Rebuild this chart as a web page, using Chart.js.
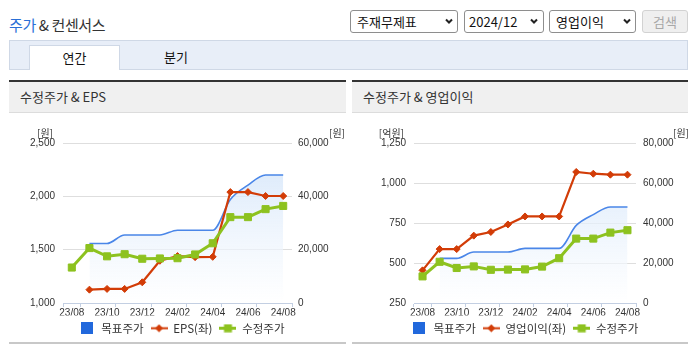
<!DOCTYPE html>
<html><head><meta charset="utf-8">
<script src="https://cdn.jsdelivr.net/npm/chart.js@4/dist/chart.umd.min.js"></script>
<style>
html,body{margin:0;padding:0;background:#fff;width:695px;height:349px;overflow:hidden;font-family:'Noto Sans CJK KR','Noto Sans',sans-serif;}
.a{position:absolute;box-sizing:border-box;}
#title{left:9px;top:13px;font-size:15px;color:#333;line-height:24px;letter-spacing:-0.4px;white-space:nowrap}
#title .b{color:#2a6fd6}
.sel{top:10px;height:23px;border:1px solid #8e8e8e;border-radius:3px;background:#fff;font-size:13px;line-height:21px;color:#111;white-space:nowrap}
.sel svg{position:absolute;top:7px}
#btn{left:642px;top:10px;width:46px;height:23px;background:#efefef;border:1px solid #d2d2d2;border-radius:3px;color:#a8a8a8;font-size:13px;line-height:21px;text-align:center}
#tabbar{left:9px;top:40px;width:679px;height:30px;background:#e8eef8;border:1px solid #cfd8e6}
#tab1{left:29px;top:45px;width:91px;height:25px;background:#fff;border:1px solid #cfd8e6;border-bottom:none;font-size:13px;line-height:24px;text-align:center;color:#111}
#tab2{left:131px;top:45px;width:90px;height:25px;font-size:13px;line-height:24px;text-align:center;color:#111}
.ptop{top:80px;height:2px;background:#333}
.phead{top:82px;height:31px;background:#f0f0f0;border-bottom:1px solid #dcdcdc;font-size:13px;line-height:30px;color:#333;padding-left:11px;white-space:nowrap}
.pbot{top:342px;height:2px;background:#c8c8c8;z-index:5}
canvas{position:absolute;}
</style>
</head>
<body>
<div id="title" class="a"><span class="b">주가</span> &amp; 컨센서스</div>
<div class="a sel" style="left:350px;width:108px;padding-left:6px">주재무제표<svg style="left:94px" width="8" height="7" viewBox="0 0 8 7"><path d="M1 1.5 L4 4.5 L7 1.5" stroke="#222" stroke-width="2" fill="none"/></svg></div>
<div class="a sel" style="left:464px;width:80px;padding-left:4px">2024/12<svg style="left:65px" width="8" height="7" viewBox="0 0 8 7"><path d="M1 1.5 L4 4.5 L7 1.5" stroke="#222" stroke-width="2" fill="none"/></svg></div>
<div class="a sel" style="left:549px;width:87px;padding-left:6px">영업이익<svg style="left:73px" width="8" height="7" viewBox="0 0 8 7"><path d="M1 1.5 L4 4.5 L7 1.5" stroke="#222" stroke-width="2" fill="none"/></svg></div>
<div id="btn" class="a">검색</div>
<div id="tabbar" class="a"></div>
<div id="tab1" class="a">연간</div>
<div id="tab2" class="a">분기</div>

<div class="a ptop" style="left:9px;width:337px"></div>
<div class="a phead" style="left:9px;width:337px">수정주가 &amp; EPS</div>
<div class="a ptop" style="left:352px;width:336px"></div>
<div class="a phead" style="left:352px;width:336px">수정주가 &amp; 영업이익</div>

<canvas id="c1" width="337" height="231" style="left:9px;top:113px"></canvas>
<canvas id="c2" width="336" height="231" style="left:352px;top:113px"></canvas>

<div class="a pbot" style="left:9px;width:337px"></div>
<div class="a pbot" style="left:352px;width:336px"></div>

<script>
// ---- data ----
const months = ['23/08','23/09','23/10','23/11','23/12','24/01','24/02','24/03','24/04','24/05','24/06','24/07','24/08'];
const targetPrice = [null, 22300, 22300, 25500, 25500, 25500, 27300, 27300, 27300, 38800, 44200, 48000, 48000];
const adjPrice = [13300, 20600, 17500, 18300, 16600, 16700, 16800, 18200, 22400, 32200, 32200, 35200, 36400];
const eps = [null, 1125, 1132, 1132, 1194, 1396, 1440, 1430, 1433, 2040, 2040, 2003, 2003];
const opIncome = [454, 587, 587, 671, 694, 741, 791, 791, 791, 1069, 1058, 1052, 1052];
const seriesNames1 = ['목표주가', 'EPS(좌)', '수정주가'];
const seriesNames2 = ['목표주가', '영업이익(좌)', '수정주가'];
const leftTicks1 = [1000, 1500, 2000, 2500];
const rightTicks1 = [0, 20000, 40000, 60000];
const leftTicks2 = [250, 500, 750, 1000, 1250];
const rightTicks2 = [0, 20000, 40000, 60000, 80000];
const unit1 = ['[원]', '[원]'];
const unit2 = ['[억원]', '[원]'];

// ---- styles ----
const BLUE = '#4a86e8', BLUEBOX = '#2168dc', RED = '#d23c07', GREEN = '#8dc21f';
const AXIS = '#c3cfe2', GRID = '#dedede', TXT = '#333';
const tickFont = {family: "'Liberation Sans Narrow','Liberation Sans',Arial,sans-serif", size: 10};
const krFont = "'Noto Sans CJK KR','Noto Sans',sans-serif";

function legendIcon(kind) {
  const c = document.createElement('canvas');
  const g = c.getContext('2d');
  if (kind === 0) {
    c.width = 12; c.height = 12;
    g.fillStyle = BLUEBOX; g.fillRect(0, 0, 12, 12);
  } else if (kind === 1) {
    c.width = 17; c.height = 9;
    g.strokeStyle = RED; g.lineWidth = 2;
    g.beginPath(); g.moveTo(0, 4.5); g.lineTo(17, 4.5); g.stroke();
    g.fillStyle = RED; g.beginPath();
    g.moveTo(8.5, 0.5); g.lineTo(12.5, 4.5); g.lineTo(8.5, 8.5); g.lineTo(4.5, 4.5); g.closePath(); g.fill();
  } else {
    c.width = 17; c.height = 9;
    g.strokeStyle = GREEN; g.lineWidth = 3;
    g.beginPath(); g.moveTo(0, 4.5); g.lineTo(17, 4.5); g.stroke();
    g.fillStyle = GREEN; g.fillRect(4.5, 0.5, 8, 8);
  }
  return c;
}
const icons = [legendIcon(0), legendIcon(1), legendIcon(2)];

const unitPlugin = {
  id: 'units',
  afterDraw(chart, args, opts) {
    const {ctx, chartArea} = chart;
    ctx.save();
    ctx.font = '10px ' + krFont;
    ctx.fillStyle = TXT;
    ctx.textBaseline = 'middle';
    ctx.textAlign = 'right';
    ctx.fillText(opts.left, chartArea.left - 10, chartArea.top - 10);
    ctx.textAlign = 'left';
    ctx.fillText(opts.right, chartArea.right + 37, chartArea.top - 10);
    ctx.restore();
  }
};

function fmt(v) { return Number(v).toLocaleString('en-US'); }

function makeChart(id, leftData, names, lt, rt, units, padLeft, wL, wR, tpL, tpR) {
  const fillGrad = (ctx) => {
    const ca = ctx.chart.chartArea;
    if (!ca) return 'rgba(220,233,250,0.8)';
    const g = ctx.chart.ctx.createLinearGradient(0, ca.top, 0, ca.bottom);
    g.addColorStop(0, 'rgba(205,225,249,0.85)');
    g.addColorStop(1, 'rgba(255,255,255,0.6)');
    return g;
  };
  return new Chart(document.getElementById(id), {
    type: 'line',
    data: {
      labels: months,
      datasets: [
        {label: names[0], data: targetPrice, yAxisID: 'yR', borderColor: BLUE, borderWidth: 1.6,
         backgroundColor: fillGrad, fill: 'origin', pointRadius: 0, cubicInterpolationMode: 'monotone', order: 3},
        {label: names[1], data: leftData, yAxisID: 'yL', borderColor: RED, borderWidth: 2.2,
         backgroundColor: RED, pointBackgroundColor: RED, pointBorderColor: RED, pointStyle: 'rectRot',
         pointRadius: 3.5, pointBorderWidth: 1, fill: false, order: 2},
        {label: names[2], data: adjPrice, yAxisID: 'yR', borderColor: GREEN, borderWidth: 3,
         backgroundColor: GREEN, pointBackgroundColor: GREEN, pointBorderColor: GREEN, pointStyle: 'rect',
         pointRadius: 5, pointBorderWidth: 1, fill: false, order: 1}
      ]
    },
    options: {
      responsive: false, animation: false, devicePixelRatio: 1,
      layout: {padding: {top: 30, left: padLeft, right: 0, bottom: 0}},
      events: [],
      plugins: {
        tooltip: {enabled: false},
        units: {left: units[0], right: units[1]},
        legend: {
          position: 'bottom',
          labels: {
            usePointStyle: true, pointStyleWidth: 17, padding: 7, color: TXT,
            font: {family: krFont, size: 11.5},
            generateLabels(chart) {
              return chart.data.datasets.map((ds, i) => ({
                text: ds.label, pointStyle: icons[i], datasetIndex: i, hidden: false,
                fillStyle: 'transparent', strokeStyle: 'transparent', lineWidth: 0, fontColor: TXT
              }));
            }
          }
        }
      },
      scales: {
        x: {
          offset: true,
          border: {color: AXIS, width: 1},
          grid: {offset: true, drawOnChartArea: false, tickLength: 4, lineWidth: 1,
                 color: (c) => (c.index === undefined || c.index === 0 || c.index % 2 === 1) ? AXIS : 'rgba(0,0,0,0)'},
          ticks: {autoSkip: false, maxRotation: 0, padding: 0, color: TXT, font: tickFont,
                  callback: (v, i) => (i % 2 === 0 ? months[i] : '')},
          afterFit: (s) => { s.height = 12.5; }
        },
        yL: {
          position: 'left', min: lt[0], max: lt[lt.length - 1],
          afterBuildTicks: (s) => { s.ticks = lt.map(v => ({value: v})); },
          border: {display: false},
          grid: {color: (c) => c.index === 0 ? 'rgba(0,0,0,0)' : GRID, drawTicks: false},
          ticks: {padding: tpL, color: TXT, font: tickFont, callback: (v) => fmt(v)},
          afterFit: (s) => { s.width = wL; }
        },
        yR: {
          position: 'right', min: rt[0], max: rt[rt.length - 1],
          afterBuildTicks: (s) => { s.ticks = rt.map(v => ({value: v})); },
          border: {display: false},
          grid: {drawOnChartArea: false, drawTicks: false},
          ticks: {padding: tpR, color: TXT, font: tickFont, callback: (v) => fmt(v)},
          afterFit: (s) => { s.width = wR; }
        }
      }
    },
    plugins: [unitPlugin]
  });
}

makeChart('c1', eps, seriesNames1, leftTicks1, rightTicks1, unit1, 8, 46, 54, 8, 6);
makeChart('c2', opIncome, seriesNames2, leftTicks2, rightTicks2, unit2, 9, 53, 52, 8, 7);
</script>
</body></html>
